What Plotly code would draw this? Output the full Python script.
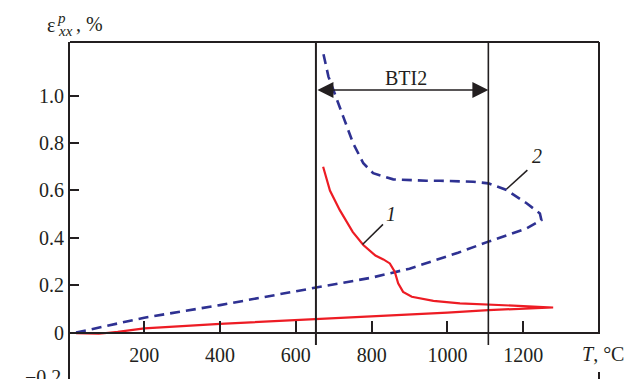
import plotly.graph_objects as go

# ---- data ----
# curve 1 (red, solid): heating then cooling
c1_T = [20, 80, 130, 200, 400, 600, 800, 1000, 1108, 1279,
        1200, 1108, 1033, 963, 906, 883, 870, 861, 848, 831, 810, 778, 750, 716, 690, 672]
c1_e = [-0.002, -0.005, 0.003, 0.018, 0.037, 0.052, 0.066, 0.084, 0.095, 0.106,
        0.112, 0.118, 0.123, 0.134, 0.151, 0.172, 0.208, 0.257, 0.292, 0.309, 0.325, 0.370, 0.425, 0.517, 0.600, 0.700]
# curve 2 (blue, dashed): heating then cooling
c2_T = [20, 200, 400, 600, 653, 716, 800, 900, 980, 1028, 1108, 1209, 1248,
        1244, 1209, 1156, 1108, 1068, 980, 945, 857, 804, 778, 751, 725, 686, 672]
c2_e = [0.0, 0.063, 0.116, 0.172, 0.190, 0.208, 0.232, 0.270, 0.313, 0.337, 0.384, 0.440, 0.475,
        0.503, 0.546, 0.602, 0.630, 0.637, 0.641, 0.641, 0.647, 0.673, 0.715, 0.800, 0.912, 1.081, 1.182]

x_ticks = [200, 400, 600, 800, 1000, 1200]
y_ticks = [0, 0.2, 0.4, 0.6, 0.8, 1.0]
y_tick_text = ["0", "0.2", "0.4", "0.6", "0.8", "1.0"]
bti_T = [653, 1108]          # BTI2 interval
bti_label = "BTI2"

INK = "#231f20"
RED = "#ed1c24"
BLUE = "#2e3192"
FONT = "Liberation Serif, Times New Roman, serif"

W, H = 641, 379
ML, MR, MT, MB = 70, 42, 42, 0
PW, PH = W - ML - MR, H - MT - MB


def px(x):
    return (x - ML) / PW


def py(y):
    return (H - MB - y) / PH


fig = go.Figure()
fig.add_trace(go.Scatter(x=c2_T, y=c2_e, mode="lines",
                         line=dict(color=BLUE, width=2.6, dash="10px,6px"),
                         hoverinfo="skip", showlegend=False))
fig.add_trace(go.Scatter(x=c1_T, y=c1_e, mode="lines",
                         line=dict(color=RED, width=2.2),
                         hoverinfo="skip", showlegend=False))

shapes = []
# frame: top, right (gapped for the label)
shapes.append(dict(type="line", xref="paper", yref="paper", x0=0, x1=1, y0=1, y1=1,
                   line=dict(color=INK, width=2)))
shapes.append(dict(type="line", xref="paper", yref="paper", x0=1, x1=1, y0=1, y1=py(334),
                   line=dict(color=INK, width=2)))
shapes.append(dict(type="line", xref="paper", yref="paper", x0=1, x1=1, y0=py(372), y1=-0.01,
                   line=dict(color=INK, width=2)))
# BTI2 vertical lines
for T, w in zip(bti_T, [2, 1.6]):
    shapes.append(dict(type="line", xref="x", yref="paper", x0=T, x1=T, y0=1, y1=py(345),
                       line=dict(color=INK, width=w)))
# leader lines
shapes.append(dict(type="line", xref="x", yref="y", x0=830, y0=0.457, x1=776, y1=0.372,
                   line=dict(color=INK, width=1.5)))
shapes.append(dict(type="line", xref="x", yref="y", x0=1211, y0=0.686, x1=1156, y1=0.606,
                   line=dict(color=INK, width=1.5)))


def label(x, y, text, size=20, xanchor="center", ref="paper"):
    return dict(x=x, y=y, xref=ref if ref == "paper" else "x", yref=ref if ref == "paper" else "y",
                text=text, showarrow=False, xanchor=xanchor, yanchor="middle",
                font=dict(family=FONT, size=size, color=INK))


ann = []
# double arrow for BTI2
ann.append(dict(x=bti_T[1], y=1.0245, ax=bti_T[0], ay=1.0245, xref="x", yref="y",
                axref="x", ayref="y", text="", showarrow=True, arrowside="end+start",
                arrowhead=2, startarrowhead=2, arrowsize=2, startarrowsize=2,
                arrowwidth=1.6, arrowcolor=INK, standoff=0, startstandoff=0))
ann.append(label((bti_T[0] + bti_T[1]) / 2 + 10, 1.077, bti_label, ref="data"))
# curve labels
ann.append(label(851, 0.50, "<i>1</i>", ref="data"))
ann.append(label(1237, 0.746, "<i>2</i>", ref="data"))
# y axis title pieces
ann.append(label(px(50.5), py(25), "ε"))
ann.append(label(px(61.5), py(18), "<i>p</i>", size=15))
ann.append(label(px(65), py(31), "<i>xx</i>", size=15))
ann.append(label(px(74), py(24), ", %", xanchor="left"))
# x axis title
ann.append(label(px(603), py(354), "<i>T</i>, °C"))
# cut-off −0.2 label
ann.append(label(px(63), py(377), "−0.2", xanchor="right"))

fig.update_layout(
    width=W, height=H,
    margin=dict(l=ML, r=MR, t=MT, b=MB, pad=0),
    paper_bgcolor="white", plot_bgcolor="white",
    shapes=shapes, annotations=ann,
    xaxis=dict(range=[4, 1400], showgrid=False, zeroline=False,
               anchor="free", position=py(332.5),
               showline=True, linewidth=2, linecolor=INK,
               ticks="inside", ticklen=11, tickwidth=2, tickcolor=INK,
               tickvals=x_ticks, ticklabelstandoff=4,
               tickfont=dict(family=FONT, size=20, color=INK)),
    yaxis=dict(range=[-0.196, 1.227], showgrid=False, zeroline=False,
               showline=True, linewidth=2, linecolor=INK,
               ticks="inside", ticklen=9, tickwidth=2, tickcolor=INK,
               tickvals=y_ticks, ticktext=y_tick_text,
               tickfont=dict(family=FONT, size=20, color=INK)),
)

fig.write_html("out.html")
